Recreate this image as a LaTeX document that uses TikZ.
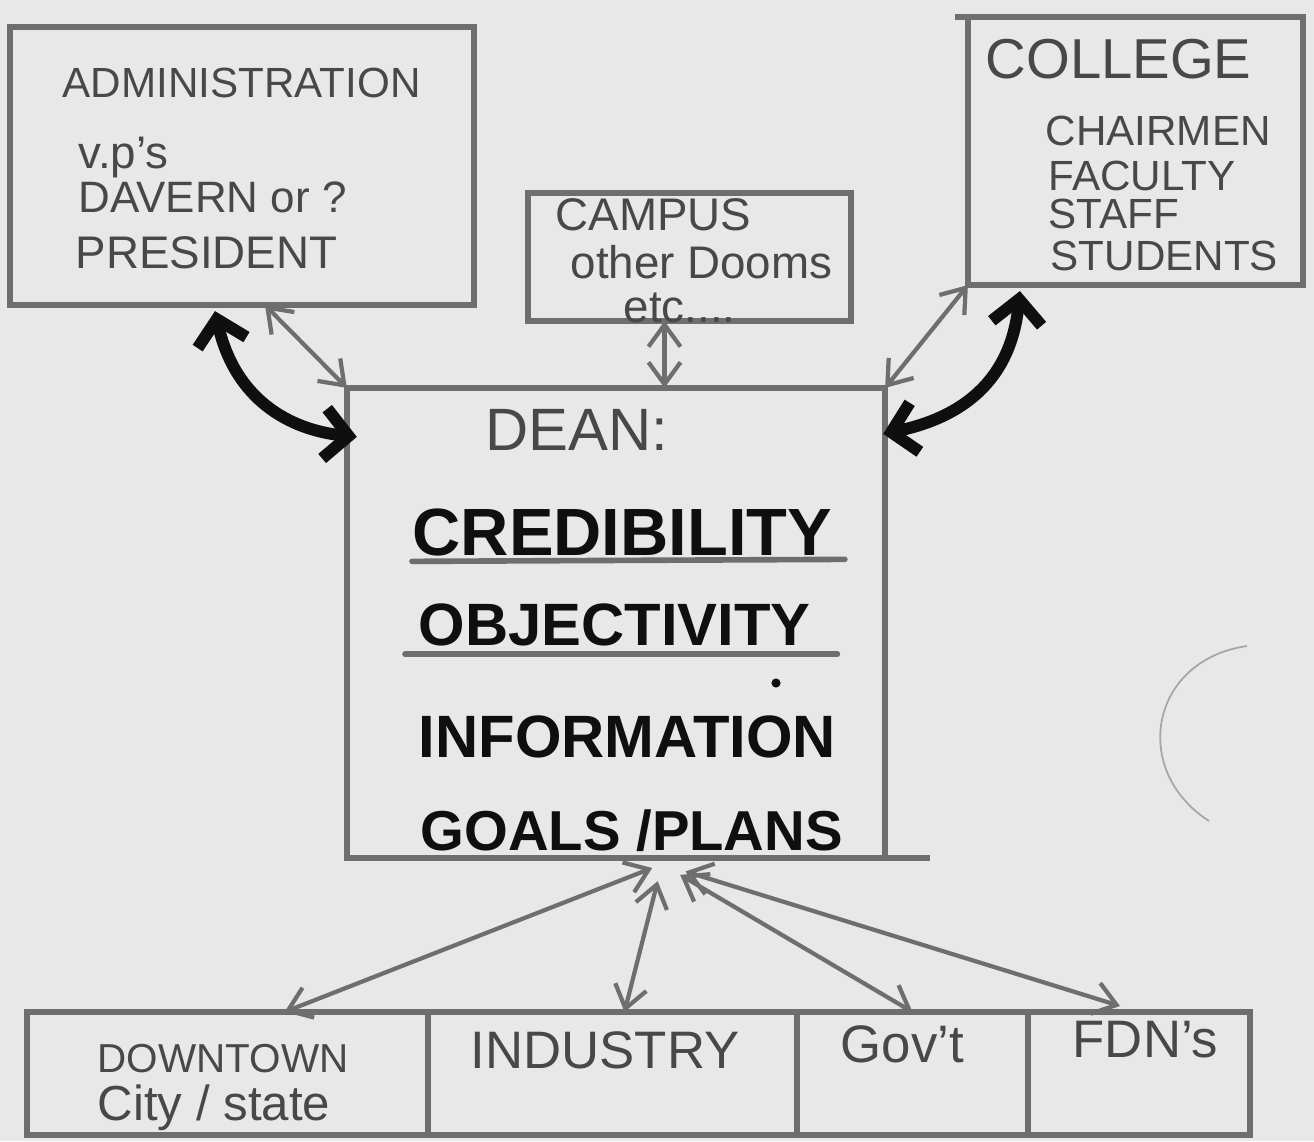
\documentclass[tikz,border=0pt]{standalone}
\usepackage{fontspec}
\setmainfont{Liberation Sans}
\usepackage{xcolor}
\usetikzlibrary{arrows.meta}
\usetikzlibrary{calc}

\definecolor{paper}{RGB}{232,232,232}
\definecolor{boxgray}{RGB}{110,110,110}
\definecolor{inkgray}{RGB}{72,72,72}
\definecolor{inkblack}{RGB}{15,15,15}

\newcommand{\fs}[1]{\fontsize{#1}{#1}\selectfont}

\tikzset{
    box/.style={draw=boxgray, line width=1.7pt, inner sep=0pt, outer sep=0pt},
    txt/.style={text=inkgray, inner sep=0pt, anchor=base west},
    keyword/.style={text=inkblack, font=\bfseries\fs{17}, inner sep=0pt, anchor=base west},
    underline/.style={draw=boxgray, line width=1.6pt, line cap=round},
    link/.style={<->, draw=boxgray, line width=1.2pt, >={Straight Barb[length=2.2mm,width=3.2mm]}},
    bold link/.style={<->, draw=inkblack, line width=3.4pt, line cap=round, >={Straight Barb[length=2.4mm,width=5mm]}},
}

\begin{document}
\begin{tikzpicture}[x=0.01cm, y=-0.01cm]
    \useasboundingbox (0,0) rectangle (1314,1141);
    \fill[paper] (0,0) rectangle (1314,1141);

    \node[box, minimum width=4.64cm, minimum height=2.78cm] (admin) at (242,166) {};
    \node[box, minimum width=3.35cm, minimum height=2.68cm] (college) at (1135.5,151) {};
    \node[box, minimum width=3.23cm, minimum height=1.28cm] (campus) at (689.5,257) {};
    \node[box, minimum width=5.38cm, minimum height=4.70cm] (dean) at (616,623) {};
    \draw[box] (dean.south east) -- ++(45,0);
    \draw[box] (college.north west) -- ++(-13,0);

    \node[box, minimum width=4.01cm, minimum height=1.23cm] (downtown) at (227.5,1073.5) {};
    \node[box, minimum width=3.69cm, minimum height=1.23cm] (industry) at (612.5,1073.5) {};
    \node[box, minimum width=2.31cm, minimum height=1.23cm] (govt) at (912.5,1073.5) {};
    \node[box, minimum width=2.22cm, minimum height=1.23cm] (fdns) at (1139,1073.5) {};

    \node[txt, font=\fs{12}] (admintitle) at (62,97) {ADMINISTRATION};
    \node[txt, font=\fs{13}] (vps) at (78,168) {v.p's};
    \node[txt, font=\fs{12.5}] (davern) at (78,212) {DAVERN or ?};
    \node[txt, font=\fs{13}] (president) at (75,268) {PRESIDENT};

    \node[txt, font=\fs{16}] (collegetitle) at (985,78) {COLLEGE};
    \node[txt, font=\fs{12}] (chairmen) at (1045,145) {CHAIRMEN};
    \node[txt, font=\fs{12}] (faculty) at (1048,190) {FACULTY};
    \node[txt, font=\fs{12}] (staff) at (1048,228) {STAFF};
    \node[txt, font=\fs{12}] (students) at (1050,270) {STUDENTS};

    \node[txt, font=\fs{13}] (campustitle) at (555,230) {CAMPUS};
    \node[txt, font=\fs{13}] (dooms) at (570,278) {other Dooms};
    \node[txt, font=\fs{13}] (etc) at (623,322) {etc....};

    \node[txt, font=\fs{17}] (deantitle) at (485,450) {DEAN:};
    \node[keyword, font=\bfseries\fs{19}] (cred) at (412,555) {CREDIBILITY};
    \node[keyword] (obj) at (418,645) {OBJECTIVITY};
    \node[keyword] (info) at (418,757) {INFORMATION};
    \node[keyword, font=\bfseries\fs{16}] (goals) at (420,850) {GOALS /PLANS};
    \draw[underline] ($(cred.south west)+(0,5)$) -- ($(cred.south east)+(12,3)$);
    \draw[underline] ($(obj.south west)+(-13,8)$) -- ($(obj.south east)+(26,8)$);
    \fill[inkblack] (776,683) circle[radius=1.3pt];

    \node[txt, font=\fs{11.5}] (downtowntitle) at (97,1072) {DOWNTOWN};
    \node[txt, font=\fs{14}] (citystate) at (97,1120) {City / state};
    \node[txt, font=\fs{15}] (industrytitle) at (470,1068) {INDUSTRY};
    \node[txt, font=\fs{15}] (govttitle) at (840,1062) {Gov't};
    \node[txt, font=\fs{15}] (fdnstitle) at (1072,1057) {FDN's};

    \draw[bold link] ($(admin.south)+(-27,6)$) .. controls (235,400) and (290,430) .. ($(dean.north west)+(10,49)$);
    \draw[link] ($(admin.south)+(23,0)$) -- (dean.north west);

    \coordinate (campusfoot) at ($(campus.south)+(-25,0)$);
    \draw[link] (campusfoot) -- (campusfoot |- dean.north);

    \draw[link] (college.south west) -- (dean.north east);
    \draw[bold link] ($(college.south west)+(52,6)$) .. controls (1010,390) and (950,420) .. ($(dean.north east)+(-2,46)$);

    \coordinate (hub) at ($(dean.south)+(46,6)$);
    \draw[link, shorten <=3pt] (hub) -- ($(downtown.north)+(57,0)$);
    \draw[link, shorten <=5pt] (hub) -- ($(industry.north)+(12,0)$);
    \draw[link, shorten <=6pt] (hub) -- (govt.north);
    \draw[link, shorten <=7pt] (hub) -- ($(fdns.north)+(-19,-6)$);

    \draw[gray!70, line width=0.5pt] (1247,646) .. controls (1150,660) and (1130,770) .. (1209,821);
\end{tikzpicture}
\end{document}
